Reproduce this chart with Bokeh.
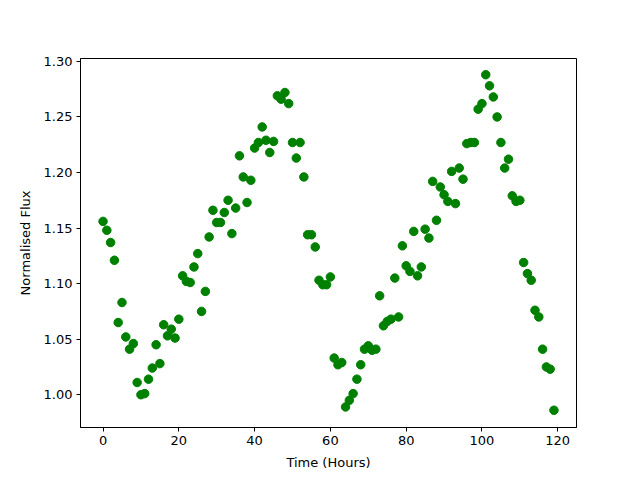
from bokeh.plotting import figure
from bokeh.embed import file_html
from bokeh.resources import INLINE
from bokeh.models import Range1d, FixedTicker, NumeralTickFormatter, ColumnDataSource

hours = list(range(120))
flux = [1.156, 1.148, 1.137, 1.121, 1.065, 1.083, 1.052, 1.041, 1.046, 1.011,
        1.000, 1.001, 1.014, 1.024, 1.045, 1.028, 1.063, 1.053, 1.059, 1.051,
        1.068, 1.107, 1.102, 1.101, 1.115, 1.127, 1.075, 1.093, 1.142, 1.166,
        1.155, 1.155, 1.164, 1.175, 1.145, 1.168, 1.215, 1.196, 1.173, 1.193,
        1.222, 1.227, 1.241, 1.229, 1.218, 1.228, 1.269, 1.266, 1.272, 1.262,
        1.227, 1.213, 1.227, 1.196, 1.144, 1.144, 1.133, 1.103, 1.099, 1.099,
        1.106, 1.033, 1.027, 1.029, 0.989, 0.995, 1.001, 1.014, 1.027, 1.041,
        1.044, 1.040, 1.041, 1.089, 1.062, 1.066, 1.068, 1.105, 1.070, 1.134,
        1.116, 1.111, 1.147, 1.107, 1.115, 1.149, 1.141, 1.192, 1.157, 1.187,
        1.180, 1.174, 1.201, 1.172, 1.204, 1.194, 1.226, 1.227, 1.227, 1.257,
        1.262, 1.288, 1.278, 1.268, 1.250, 1.227, 1.204, 1.212, 1.179, 1.174,
        1.175, 1.119, 1.109, 1.103, 1.076, 1.070, 1.041, 1.025, 1.023, 0.986]
x_ticks = [0, 20, 40, 60, 80, 100, 120]
y_ticks = [1.00, 1.05, 1.10, 1.15, 1.20, 1.25, 1.30]

src = ColumnDataSource(dict(t=hours, f=flux))

p = figure(width=632, height=472, output_backend="svg", toolbar_location=None,
           x_range=Range1d(-5.95, 124.95), y_range=Range1d(0.9705, 1.3026),
           min_border_left=80, min_border_right=56, min_border_top=58, min_border_bottom=45)
p.scatter("t", "f", source=src, size=8.5, fill_color="#008000", line_color="#008000")

p.xgrid.visible = False
p.ygrid.visible = False
p.outline_line_color = "black"
p.outline_line_width = 1
p.background_fill_color = "white"
p.border_fill_color = "white"

p.xaxis.ticker = FixedTicker(ticks=x_ticks)
p.yaxis.ticker = FixedTicker(ticks=y_ticks)
p.yaxis.formatter = NumeralTickFormatter(format="0.00")
p.xaxis.axis_label = "Time (Hours)"
p.yaxis.axis_label = "Normalised Flux"
for ax in (p.xaxis, p.yaxis):
    ax.axis_label_text_font = "DejaVu Sans"
    ax.axis_label_text_font_size = "13px"
    ax.axis_label_text_font_style = "normal"
    ax.axis_label_text_color = "black"
    ax.major_label_text_font = "DejaVu Sans"
    ax.major_label_text_font_size = "13px"
    ax.major_label_text_color = "black"
    ax.major_tick_out = 4
    ax.major_tick_in = 0
    ax.minor_tick_out = 0
    ax.minor_tick_in = 0
    ax.axis_line_color = "black"
    ax.major_tick_line_color = "black"
p.xaxis.axis_label_standoff = 7
p.yaxis.axis_label_standoff = 8
p.xaxis.major_label_standoff = 4
p.yaxis.major_label_standoff = 4

open("out.html", "w").write(file_html(p, INLINE))
